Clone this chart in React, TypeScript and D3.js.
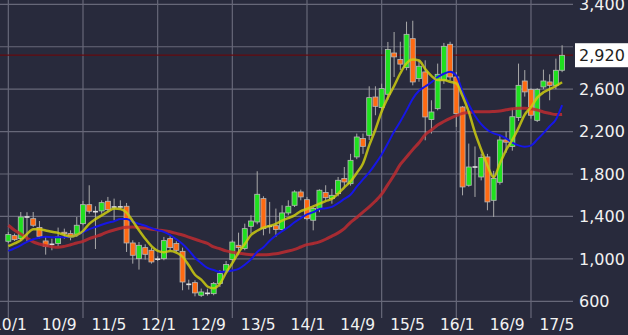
import React from 'react';
import * as d3 from 'd3';

const W = 628;
const H = 335;

// Monthly candles, 2010/1 .. 2017/6
const opens = [1166,1219,1191,1390,1379,1295,1169,1137,1144,1251,1238,1232,1332,1511,1445,1452,1543,1489,1490,1496,1150,1002,1106,1081,997,1002,1191,1144,1071,760,776,657,675,672,767,883,993,1128,1097,1307,1348,1568,1307,1313,1276,1433,1505,1631,1558,1364,1474,1625,1568,1615,1757,1709,1961,2134,2165,2526,2426,2552,2941,2880,2803,3076,2699,2762,2313,2416,2684,3023,2715,2432,1694,1866,1772,1961,1552,1722,2121,2060,2332,2677,2596,2306,2621,2668,2636,2778];
const highs = [1254,1238,1442,1440,1442,1357,1207,1191,1295,1285,1269,1395,1546,1694,1496,1552,1584,1568,1552,1527,1175,1159,1137,1106,1024,1207,1213,1166,1106,804,798,720,719,782,892,980,1175,1247,1332,1411,1826,1590,1537,1474,1505,1552,1647,1653,1584,1490,1656,1694,1660,1772,1866,1990,2181,2181,2627,2627,2652,3045,3139,3047,3236,3245,2872,2872,2495,2841,3036,3047,2762,2440,2087,2060,1990,1990,1830,2160,2200,2420,2841,2780,2610,2610,2784,2740,2888,3014];
const lows = [1150,1169,1172,1165,1301,1191,1040,1081,1119,1191,1175,1207,1317,1427,1093,1427,1442,1364,1470,1065,955,899,993,955,980,987,1081,1065,704,710,647,641,653,657,735,873,971,1034,1081,1238,1326,1222,1238,1207,1269,1411,1489,1552,1364,1269,1440,1550,1520,1590,1680,1690,1940,1990,2120,2354,2400,2500,2715,2781,2778,2636,2670,2118,2181,2400,2650,2680,2244,1599,1680,1584,1740,1458,1395,1700,2000,2020,2300,2530,2322,2290,2600,2495,2600,2760];
const closes = [1229,1181,1395,1395,1317,1213,1119,1128,1207,1238,1207,1317,1511,1449,1442,1530,1464,1485,1480,1150,1034,1128,1043,971,993,1172,1106,1081,782,757,679,688,672,767,861,946,1159,1106,1285,1357,1609,1285,1300,1276,1433,1496,1631,1584,1379,1474,1647,1577,1599,1741,1725,1929,2149,2061,2520,2438,2605,2973,2904,2836,3117,2668,2816,2338,2385,2740,3004,2715,2369,1678,1866,1860,1955,1537,1757,2121,2100,2340,2636,2574,2354,2596,2677,2636,2778,2919];

// Moving averages (short / mid / long)
const maShort = [1120,1145,1175,1235,1280,1280,1268,1255,1245,1225,1210,1225,1262,1330,1375,1410,1445,1475,1470,1435,1355,1270,1190,1120,1075,1062,1075,1060,1020,940,850,805,740,722,765,870,960,1060,1140,1225,1265,1295,1310,1330,1360,1385,1410,1450,1470,1495,1520,1545,1565,1615,1675,1730,1810,1900,2070,2220,2390,2520,2630,2750,2844,2880,2870,2790,2725,2686,2686,2670,2655,2535,2385,2190,2030,1880,1770,1900,2026,2121,2235,2360,2430,2520,2570,2600,2630,2665];
const maMid = [1075,1100,1128,1160,1185,1200,1208,1205,1205,1205,1208,1225,1250,1280,1300,1322,1340,1355,1375,1375,1350,1330,1312,1290,1270,1255,1225,1185,1140,1080,1010,960,915,895,877,880,890,905,945,995,1065,1110,1170,1220,1260,1300,1345,1385,1420,1440,1470,1478,1490,1525,1565,1605,1680,1750,1815,1895,1985,2090,2200,2295,2400,2510,2585,2625,2665,2715,2745,2765,2728,2580,2455,2350,2270,2215,2183,2165,2135,2095,2070,2058,2068,2125,2185,2250,2315,2450];
const maLong = [1317,1270,1235,1195,1160,1140,1125,1115,1110,1118,1133,1150,1165,1190,1210,1230,1255,1272,1288,1298,1300,1295,1290,1280,1272,1265,1255,1240,1225,1205,1185,1165,1145,1112,1095,1075,1062,1052,1045,1040,1040,1040,1042,1048,1060,1074,1090,1112,1134,1145,1160,1185,1215,1245,1285,1345,1390,1440,1490,1545,1610,1700,1790,1890,1960,2030,2095,2170,2215,2262,2295,2325,2350,2372,2380,2387,2387,2387,2390,2395,2405,2415,2419,2419,2415,2403,2385,2372,2360,2362];

const xLabels = ['10/1','10/9','11/5','12/1','12/9','13/5','14/1','14/9','15/5','16/1','16/9','17/5'];
const xLabelMonths = [0,8,16,24,32,40,48,56,64,72,80,88];
const yearStarts = [0,12,24,36,48,60,72,84];
const yTicks = [600,1000,1400,1800,2200,2600,3000,3400];
// 3,000 label is covered by the last-price box in the reference
const yLabelTicks = [600,1000,1400,1800,2200,2600,3400];
const lastPrice = 2920;

const FONT = '"DejaVu Sans", Verdana, sans-serif';

export default function App() {
  const x = d3.scaleLinear().domain([0, 89]).range([8.33, 562.1]);
  const y = d3.scaleLinear().domain([600, 3400]).range([301.3, 4.3]);
  const idx = d3.range(opens.length);

  const line = (arr: number[]) =>
    d3.line<number>().x((_, i) => x(i)).y((v) => y(v)).curve(d3.curveMonotoneX)(arr) || '';

  const grid = '#676879';
  const plotRight = 573;

  return (
    <svg width={W} height={H} style={{ display: 'block', position: 'absolute', left: 0, top: 0 }}>
      <rect x={0} y={0} width={W} height={H} fill="#282a3c" />
      {yTicks.map((t) => (
        <line key={'h' + t} x1={0} x2={plotRight} y1={y(t)} y2={y(t)} stroke={grid} strokeWidth={1.2} />
      ))}
      {yearStarts.map((m) => (
        <line key={'v' + m} x1={x(m)} x2={x(m)} y1={0} y2={318} stroke={grid} strokeWidth={1.2} />
      ))}
      <line x1={0} x2={plotRight} y1={y(lastPrice)} y2={y(lastPrice)} stroke="#640a0e" strokeWidth={1.2} />
      {idx.map((i) => {
        const o = opens[i], c = closes[i];
        const cx = x(i);
        const up = c >= o;
        const top = y(Math.max(o, c));
        const bot = y(Math.min(o, c));
        const doji = Math.abs(o - c) < 12;
        return (
          <g key={'c' + i}>
            <line x1={cx} x2={cx} y1={y(highs[i])} y2={y(lows[i])} stroke="#a9a9a9" strokeWidth={1} />
            {doji ? (
              <rect x={cx - 2.5} y={top - 0.8} width={5} height={Math.max(1.6, bot - top)} fill="#e0e0e0" />
            ) : (
              <rect x={cx - 2.5} y={top} width={5} height={bot - top}
                fill={up ? '#1fe01f' : '#ff6a12'} stroke="#b9b9b9" strokeWidth={0.8} />
            )}
          </g>
        );
      })}
      <path d={line(maLong)} fill="none" stroke="#bd2c30" strokeOpacity={0.85} strokeWidth={3} />
      <path d={line(maMid)} fill="none" stroke="#1616e6" strokeWidth={2} />
      <path d={line(maShort)} fill="none" stroke="#cccc10" strokeOpacity={0.85} strokeWidth={2.5} />
      {yLabelTicks.map((t) => (
        <text key={'yl' + t} x={579} y={y(t)} dy="0.36em" fill="#f2f2f2" fontSize={16} fontFamily={FONT}>
          {d3.format(',')(t)}
        </text>
      ))}
      <rect x={575} y={y(lastPrice) - 12} width={53} height={24} fill="#ffffff" />
      <text x={579} y={y(lastPrice)} dy="0.36em" fill="#1e1e1e" fontSize={16} fontFamily={FONT}>
        {d3.format(',')(lastPrice)}
      </text>
      {xLabels.map((l, k) => (
        <text key={'xl' + l} x={x(xLabelMonths[k]) + 1} y={330} textAnchor="middle" fill="#f2f2f2"
          fontSize={15.5} fontFamily={FONT}>
          {l}
        </text>
      ))}
    </svg>
  );
}
